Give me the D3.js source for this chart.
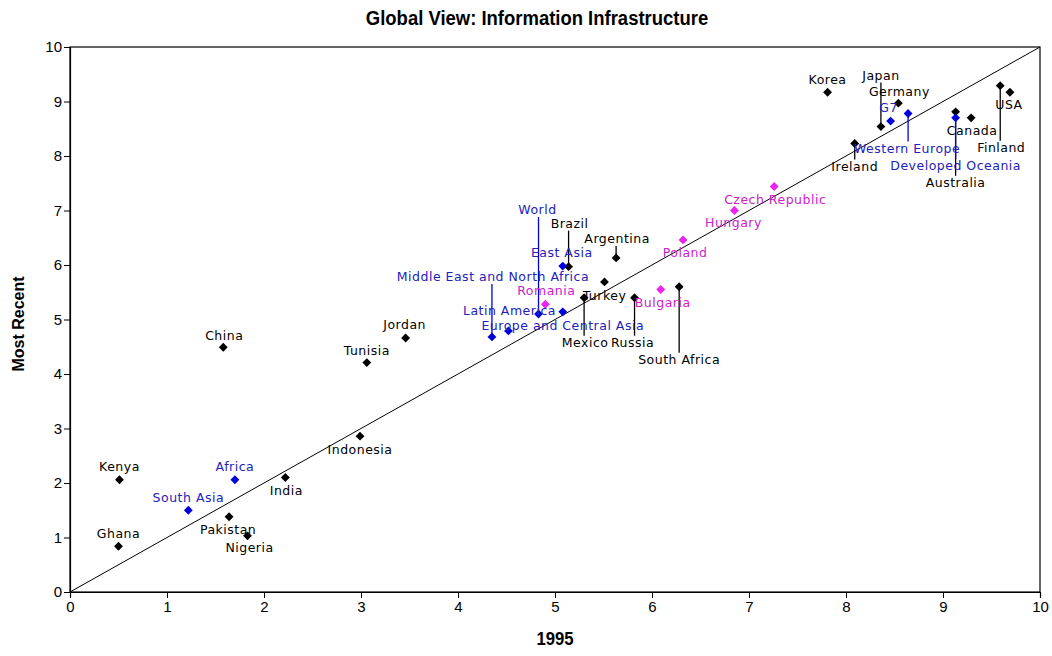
<!DOCTYPE html>
<html><head><meta charset="utf-8">
<script src="https://cdn.jsdelivr.net/npm/d3@7"></script>
<style>
html,body{margin:0;padding:0;background:#fff;}
svg{display:block;}
.narrow{font-family:"Liberation Sans Narrow","Arial Narrow","Liberation Sans",sans-serif;}
.lbl{font-family:"DejaVu Sans",Verdana,sans-serif;font-size:12.5px;letter-spacing:0.5px;}
</style></head>
<body>
<svg id="chart" width="1052" height="656"></svg>
<script>
// ---- data ----
const names = ["Korea","Japan","Germany","USA","Finland","Canada","Australia","Ireland",
  "G7","Western Europe","Developed Oceania",
  "Czech Republic","Hungary","Poland","Bulgaria","Romania",
  "Argentina","Brazil","East Asia","World","Middle East and North Africa","Latin America",
  "Europe and Central Asia","Turkey","Mexico","Russia","South Africa",
  "Jordan","Tunisia","China","Indonesia","India","Kenya","Ghana","South Asia","Africa","Pakistan","Nigeria"];
const x1995 = [7.81,8.36,8.54,9.69,9.59,9.29,9.13,8.09,
  8.46,8.64,9.13,
  7.26,6.85,6.32,6.09,4.90,
  5.63,5.14,5.08,4.83,4.35,4.52,
  5.08,5.51,5.30,5.82,6.28,
  3.46,3.06,1.58,2.99,2.22,0.51,0.50,1.22,1.70,1.64,1.83];
const mostRecent = [9.17,8.54,8.97,9.17,9.29,8.70,8.81,8.23,
  8.64,8.78,8.70,
  7.44,7.00,6.46,5.55,5.28,
  6.13,5.97,5.98,5.10,4.68,4.79,
  5.14,5.69,5.40,5.40,5.60,
  4.66,4.21,4.49,2.86,2.10,2.06,0.84,1.50,2.06,1.38,1.03];
// group: 0 = country, 1 = region aggregate, 2 = transition economy
const group = [0,0,0,0,0,0,0,0,
  1,1,1,
  2,2,2,2,2,
  0,0,1,1,1,1,
  1,0,0,0,0,
  0,0,0,0,0,0,0,1,1,0,0];
const xTicks = [0,1,2,3,4,5,6,7,8,9,10];
const yTicks = [0,1,2,3,4,5,6,7,8,9,10];

// ---- layout (label placement in px relative to point: [dx, dy, leader]) ----
const labelLayout = {
  "Korea":[0,-13,0],"Japan":[0,-51,1],"Germany":[1,-12,0],"USA":[-1,12,0],"Finland":[1,62,1],
  "Canada":[1,13,0],"Australia":[0,71,1],"Ireland":[0,23,1],"G7":[-2,-13,0],
  "Western Europe":[-1,35,1],"Developed Oceania":[0,48,1],
  "Czech Republic":[1,13,0],"Hungary":[-1,12,0],"Poland":[2,13,0],"Bulgaria":[2,13,0],"Romania":[1,-14,0],
  "Argentina":[1,-19,1],"Brazil":[1,-43,1],"East Asia":[-1,-13,0],"World":[-1,-104,1],
  "Middle East and North Africa":[1,-60,1],"Latin America":[1,-20,0],"Europe and Central Asia":[0,14,0],
  "Turkey":[0,14,0],"Mexico":[1,45,1],"Russia":[-2,45,1],"South Africa":[0,73,1],
  "Jordan":[-1,-13,0],"Tunisia":[0,-12,0],"China":[1,-12,0],"Indonesia":[0,13,0],"India":[1,13,0],
  "Kenya":[0,-13,0],"Ghana":[0,-13,0],"South Asia":[0,-13,0],"Africa":[0,-13,0],"Pakistan":[-1,13,0],"Nigeria":[2,12,0]
};
const markColor = ["#000000","#0000dd","#ee22ee"];
const textColor = ["#000000","#2222bb","#cc22cc"];

const svg = d3.select("#chart");
const L=70, R=1040, T=47, B=592;
const x = d3.scaleLinear().domain([0,10]).range([L,R]);
const y = d3.scaleLinear().domain([0,10]).range([B,T]);

// title (condensed look via horizontal scaling)
svg.append("text").attr("class","narrow")
  .attr("transform","translate(537,25) scale(0.88,1)")
  .attr("text-anchor","middle").attr("font-weight","bold").attr("font-size",21)
  .text("Global View: Information Infrastructure");

// frame
svg.append("rect").attr("x",L).attr("y",T).attr("width",R-L).attr("height",B-T)
  .attr("fill","none").attr("stroke","#000").attr("stroke-width",1.2);

// axes
const xAxis = svg.append("g").attr("transform",`translate(0,${B})`)
  .call(d3.axisBottom(x).tickValues(xTicks).tickFormat(d3.format("d")).tickSize(6).tickPadding(3));
const yAxis = svg.append("g").attr("transform",`translate(${L},0)`)
  .call(d3.axisLeft(y).tickValues(yTicks).tickFormat(d3.format("d")).tickSize(6).tickPadding(2));
[xAxis,yAxis].forEach(a=>{
  a.select(".domain").attr("stroke","#000").attr("stroke-width",1.2);
  a.selectAll("line").attr("stroke","#000");
  a.selectAll("text").attr("class","narrow").attr("font-size",15).attr("fill","#000");
});

// axis titles
svg.append("text").attr("class","narrow")
  .attr("transform","translate(555,645) scale(0.88,1)").attr("text-anchor","middle")
  .attr("font-weight","bold").attr("font-size",19).text("1995");
svg.append("text").attr("transform","translate(24,324) rotate(-90)").attr("text-anchor","middle")
  .attr("font-family","Liberation Sans, Arial, sans-serif").attr("font-weight","bold").attr("font-size",16).text("Most Recent");

// diagonal
svg.append("line").attr("x1",x(0)).attr("y1",y(0)).attr("x2",x(10)).attr("y2",y(10))
  .attr("stroke","#000").attr("stroke-width",1);

const pts = names.map((n,i)=>({name:n,x:x1995[i],y:mostRecent[i],g:group[i]}));

// leader lines
const lead = svg.append("g");
pts.forEach(p=>{
  const lay = labelLayout[p.name];
  if(!lay[2]) return;
  const px=x(p.x), py=y(p.y);
  const ly = py+lay[1];
  const end = lay[1]<0 ? ly+7 : ly-7;
  lead.append("line").attr("x1",px).attr("x2",px).attr("y1",py).attr("y2",end)
    .attr("stroke",markColor[p.g]).attr("stroke-width",1.3);
});

// diamonds
svg.append("g").selectAll("path").data(pts).join("path")
  .attr("transform",d=>`translate(${x(d.x)},${y(d.y)})`)
  .attr("d",d3.symbol().type(d3.symbolDiamond2).size(50))
  .attr("fill",d=>markColor[d.g]);

// labels
svg.append("g").selectAll("text").data(pts).join("text")
  .attr("class","lbl")
  .attr("x",d=>x(d.x)+labelLayout[d.name][0])
  .attr("y",d=>y(d.y)+labelLayout[d.name][1])
  .attr("dy","0.35em").attr("text-anchor","middle")
  .attr("fill",d=>textColor[d.g]).text(d=>d.name);
</script>
</body></html>
